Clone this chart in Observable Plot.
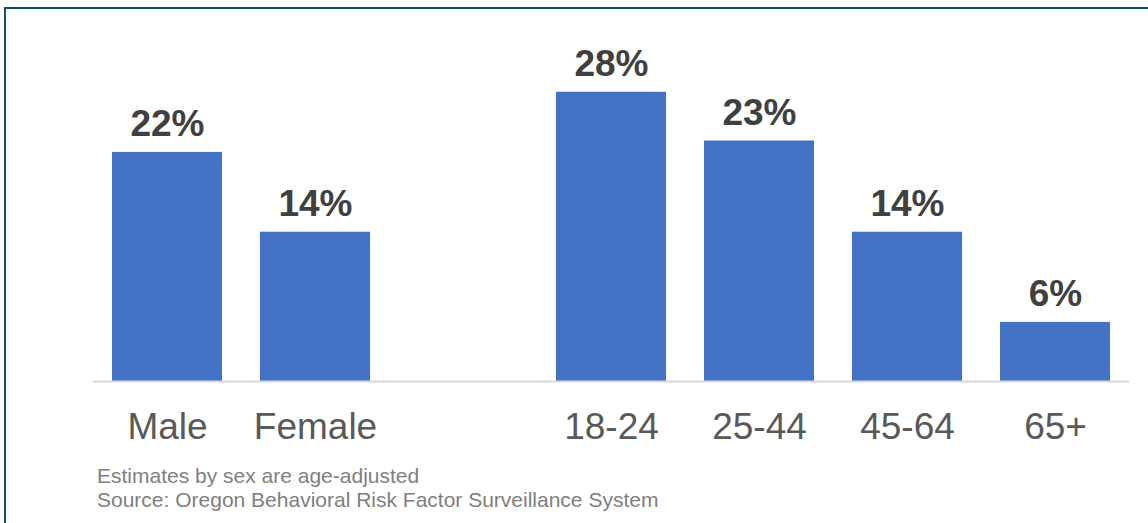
<!DOCTYPE html>
<html>
<head>
<meta charset="utf-8">
<script src="https://cdn.jsdelivr.net/npm/d3@7"></script>
<script src="https://cdn.jsdelivr.net/npm/@observablehq/plot@0.6"></script>
<style>
  html, body { margin: 0; padding: 0; background: #fff; overflow: hidden; width: 1148px; height: 523px; }
  #frame { position: absolute; left: 4px; top: 7px; width: 1300px; height: 700px;
           border-top: 2px solid #0c5661; border-left: 2px solid #0c5661; box-sizing: border-box; }
  #chart { position: absolute; left: 0; top: 0; }
  #caption { position: absolute; left: 97px; top: 464px; font-family: "Liberation Sans", Arial, sans-serif;
             font-size: 21px; line-height: 24px; color: #7f7f7f; white-space: nowrap; }
</style>
</head>
<body>
<div id="frame"></div>
<div id="chart"></div>
<div id="caption">Estimates by sex are age-adjusted<br>Source: Oregon Behavioral Risk Factor Surveillance System</div>
<script>
const categories = ["Male", "Female", " ", "18-24", "25-44", "45-64", "65+"];
const values = [22.1, 14.4, null, 27.9, 23.2, 14.4, 5.7];

const rows = categories
  .map((c, i) => ({category: c, value: values[i]}))
  .filter(d => d.value != null);

const chart = Plot.plot({
  width: 1148,
  height: 470,
  marginLeft: 93,
  marginRight: 19,
  marginTop: 70,
  marginBottom: 89,
  style: {fontFamily: "Liberation Sans, Arial, sans-serif", background: "transparent"},
  x: {domain: categories, paddingInner: 0.257, paddingOuter: 0.1285, label: null},
  y: {domain: [0, 30], axis: null},
  marks: [
    Plot.barY(rows, {x: "category", y: "value", fill: "#4472c4"}),
    Plot.ruleY([0], {stroke: "#d9d9d9", strokeWidth: 2}),
    Plot.text(rows, {x: "category", y: "value", text: d => Math.round(d.value) + "%",
      lineAnchor: "bottom", dy: -16, fontSize: 37, fontWeight: "bold", fill: "#404040"}),
    Plot.axisX({tickSize: 0, tickPadding: 31, fontSize: 37, fill: "#595959", tickFormat: d => d.trim()})
  ]
});
document.getElementById("chart").appendChild(chart);
</script>
</body>
</html>
